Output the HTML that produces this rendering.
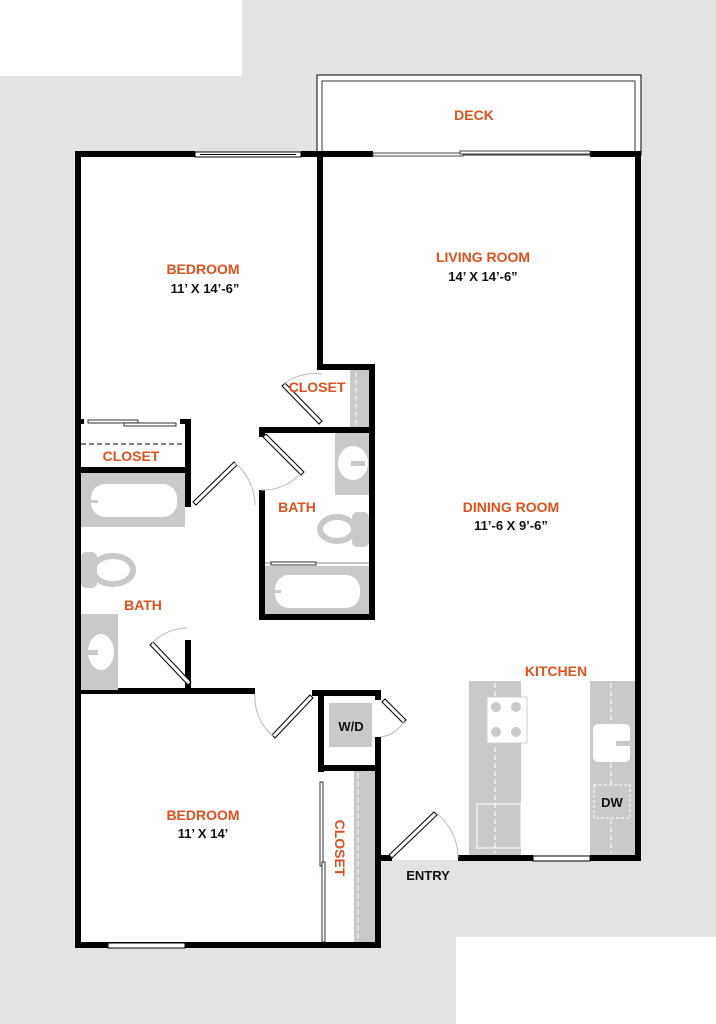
<!DOCTYPE html>
<html><head><style>
html,body{margin:0;padding:0;background:#fff}
svg{display:block}
.o{fill:#e0501c;font-family:"Liberation Sans",sans-serif;font-size:14px;font-weight:bold;text-anchor:middle}
.d{fill:#111;font-family:"Liberation Sans",sans-serif;font-size:13px;font-weight:bold;text-anchor:middle}
.w{fill:#000}
.g{fill:#c9c9c9}
</style></head><body>
<svg width="716" height="1024" viewBox="0 0 716 1024" xmlns="http://www.w3.org/2000/svg">
<rect width="716" height="1024" fill="#e3e3e3"/>
<rect x="0" y="0" width="242" height="76" fill="#fff"/>
<rect x="456" y="937" width="260" height="87" fill="#fff"/>
<!-- interior white -->
<rect x="78" y="154" width="560" height="704" fill="#fff"/>
<rect x="78" y="690" width="303" height="255" fill="#fff"/>
<rect x="381" y="858" width="80" height="2" fill="#fff"/>
<!-- deck -->
<rect x="317" y="75" width="324" height="80" fill="#fff" stroke="#000" stroke-width="1"/>
<rect x="322" y="81" width="313" height="74" fill="none" stroke="#333" stroke-width="1"/>
<!-- outer walls -->
<rect class="w" x="75" y="151" width="6" height="797"/>
<rect class="w" x="75" y="151" width="120" height="6"/>
<rect class="w" x="301" y="151" width="72" height="6"/>
<rect class="w" x="590" y="151" width="51" height="6"/>
<rect class="w" x="635" y="151" width="6" height="710"/>
<rect class="w" x="75" y="942" width="306" height="6"/>
<rect class="w" x="375" y="770" width="6" height="178"/>
<rect class="w" x="375" y="855" width="17" height="6"/>
<rect class="w" x="458" y="855" width="75" height="6"/>
<rect class="w" x="590" y="855" width="51" height="6"/>
<!-- windows -->
<rect x="195" y="152" width="106" height="5" fill="#fff" stroke="#000" stroke-width="1"/>
<line x1="200" y1="154.5" x2="296" y2="154.5" stroke="#000" stroke-width="1"/>
<rect x="373" y="153" width="90" height="3" fill="#fff" stroke="#444" stroke-width="1"/>
<rect x="460" y="151" width="130" height="3" fill="#fff" stroke="#444" stroke-width="1"/>
<rect x="533" y="856" width="57" height="5" fill="#fff" stroke="#000" stroke-width="1"/>
<rect x="108" y="943" width="77" height="5" fill="#fff" stroke="#000" stroke-width="1"/>
<!-- interior walls -->
<rect class="w" x="317" y="151" width="6" height="219"/>
<rect class="w" x="317" y="364" width="58" height="6"/>
<rect class="w" x="369" y="364" width="6" height="256"/>
<rect class="w" x="259" y="427" width="116" height="6"/>
<rect class="w" x="259" y="427" width="6" height="10"/>
<rect class="w" x="259" y="490" width="6" height="130"/>
<rect class="w" x="259" y="614" width="116" height="6"/>
<!-- upper closet -->
<rect class="g" x="350" y="370" width="19" height="57"/>
<line x1="356" y1="372" x2="356" y2="425" stroke="#fff" stroke-dasharray="5,3"/>
<!-- left closet -->
<rect class="w" x="78" y="419" width="6" height="5"/>
<rect class="w" x="180" y="419" width="11" height="5"/>
<rect x="88" y="420" width="50" height="3" fill="#fff" stroke="#000" stroke-width="0.8"/>
<rect x="124" y="423" width="52" height="3" fill="#fff" stroke="#000" stroke-width="0.8"/>
<line x1="81" y1="444" x2="186" y2="444" stroke="#000" stroke-dasharray="5,3"/>
<rect class="w" x="185" y="419" width="6" height="88"/>
<rect class="w" x="78" y="467" width="112" height="6"/>
<rect class="w" x="185" y="640" width="6" height="52"/>
<rect class="w" x="75" y="688" width="180" height="6"/>
<!-- lower bath fixtures -->
<rect class="g" x="81" y="473" width="104" height="54"/>
<rect x="91" y="484" width="86" height="33" rx="14" fill="#fff"/>
<rect class="g" x="90" y="500" width="8" height="3"/>
<rect class="g" x="81" y="552" width="16" height="36" rx="5"/>
<ellipse cx="113" cy="570" rx="20" ry="14" fill="none" stroke="#c9c9c9" stroke-width="6"/>
<rect class="g" x="81" y="614" width="37" height="76"/>
<ellipse cx="101" cy="652" rx="13" ry="18" fill="#fff"/>
<rect class="g" x="84" y="650" width="14" height="5"/>
<!-- upper bath fixtures -->
<rect class="g" x="335" y="433" width="34" height="62"/>
<ellipse cx="353" cy="463" rx="15" ry="17" fill="#fff"/>
<rect class="g" x="351" y="461" width="14" height="5"/>
<rect class="g" x="352" y="512" width="17" height="35" rx="5"/>
<ellipse cx="337" cy="529" rx="17" ry="12" fill="none" stroke="#c9c9c9" stroke-width="6"/>
<line x1="265" y1="563" x2="369" y2="563" stroke="#888" stroke-width="1"/>
<rect x="271" y="562" width="45" height="3" fill="#fff" stroke="#000" stroke-width="0.8"/>
<rect class="g" x="265" y="566" width="104" height="48"/>
<rect x="275" y="575" width="85" height="33" rx="14" fill="#fff"/>
<rect class="g" x="273" y="590" width="8" height="3"/>
<!-- doors -->
<g stroke="#000" stroke-width="1" fill="#fff">
<polygon points="282,386 285,383 322,421 319,424"/>
<polygon points="263,437 266,434 304,472 301,475"/>
<polygon points="193,502 196,505 237,465 234,462"/>
<polygon points="150,645 153,642 191,682 188,685"/>
<polygon points="272,735 275,738 313,698 310,695"/>
<polygon points="382,702 385,699 406,720 403,723"/>
<polygon points="392,858 389,855 434,812 437,815"/>
</g>
<g stroke="#bbb" stroke-width="1" fill="none">
<path d="M284,384 A50,50 0 0 1 322,374"/>
<path d="M301,473 A50,50 0 0 1 261,490"/>
<path d="M235,463 A55,55 0 0 1 255,505"/>
<path d="M152,643 A50,50 0 0 1 187,628"/>
<path d="M255,694 A50,50 0 0 0 273,736"/>
<path d="M404,721 A30,30 0 0 1 380,737"/>
<path d="M436,813 A55,55 0 0 1 458,858"/>
</g>
<!-- W/D -->
<rect class="w" x="312" y="690" width="69" height="6"/>
<rect class="w" x="318" y="690" width="6" height="82"/>
<rect class="w" x="318" y="765" width="63" height="6"/>
<rect class="w" x="375" y="690" width="6" height="10"/>
<rect class="w" x="375" y="737" width="6" height="35"/>
<rect class="g" x="329" y="703" width="43" height="44"/>
<text x="351" y="731" class="d">W/D</text>
<!-- lower closet -->
<rect class="g" x="354" y="771" width="21" height="171"/>
<line x1="358" y1="773" x2="358" y2="940" stroke="#fff" stroke-dasharray="5,3"/>
<rect x="320" y="782" width="3" height="84" fill="#fff" stroke="#000" stroke-width="0.8"/>
<rect x="322" y="862" width="3" height="80" fill="#fff" stroke="#000" stroke-width="0.8"/>
<!-- kitchen -->
<rect class="g" x="469" y="681" width="52" height="174"/>
<line x1="495" y1="683" x2="495" y2="853" stroke="#fff" stroke-dasharray="5,3"/>
<rect x="487" y="697" width="40" height="46" fill="#fff" stroke="#ccc"/>
<circle cx="496" cy="707" r="5" class="g"/><circle cx="516" cy="707" r="5" class="g"/>
<circle cx="496" cy="732" r="5" class="g"/><circle cx="516" cy="732" r="5" class="g"/>
<rect x="477" y="804" width="44" height="44" fill="none" stroke="#fff"/>
<rect class="g" x="590" y="681" width="45" height="174"/>
<line x1="611" y1="683" x2="611" y2="853" stroke="#fff" stroke-dasharray="5,3"/>
<rect x="593" y="724" width="37" height="38" rx="5" fill="#fff"/>
<rect class="g" x="616" y="741" width="16" height="5"/>
<rect x="594" y="785" width="36" height="33" fill="#c9c9c9" stroke="#fff" stroke-dasharray="3,2"/>
<text x="612" y="807" class="d">DW</text>
<!-- labels -->
<text x="474" y="120" class="o">DECK</text>
<text x="203" y="274" class="o">BEDROOM</text>
<text x="205" y="293" class="d">11’ X 14’-6”</text>
<text x="483" y="262" class="o">LIVING ROOM</text>
<text x="483" y="281" class="d">14’ X 14’-6”</text>
<text x="317" y="392" class="o">CLOSET</text>
<text x="131" y="461" class="o">CLOSET</text>
<text x="297" y="512" class="o">BATH</text>
<text x="143" y="610" class="o">BATH</text>
<text x="511" y="512" class="o">DINING ROOM</text>
<text x="511" y="530" class="d">11’-6 X 9’-6”</text>
<text x="556" y="676" class="o">KITCHEN</text>
<text x="203" y="820" class="o">BEDROOM</text>
<text x="203" y="838" class="d">11’ X 14’</text>
<text x="428" y="880" class="d">ENTRY</text>
<text class="o" transform="translate(335,848) rotate(90)">CLOSET</text>
</svg>
</body></html>
